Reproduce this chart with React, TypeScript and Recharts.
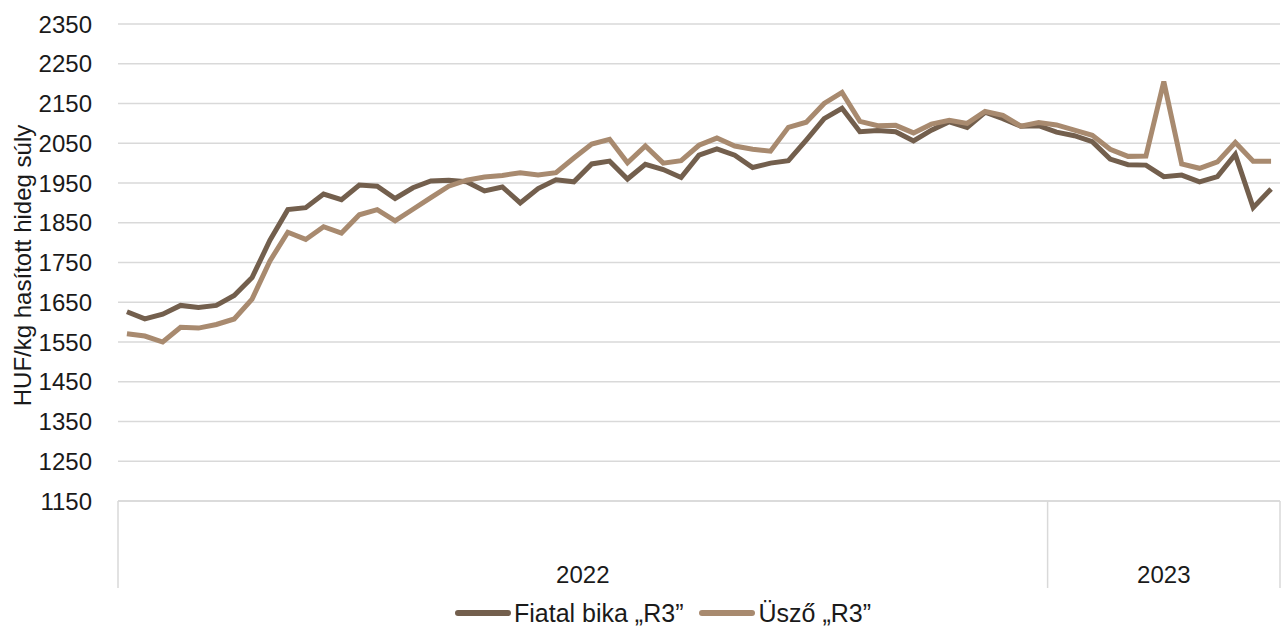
import React from 'react';
import { LineChart, Line, XAxis, YAxis, CartesianGrid, Legend } from 'recharts';

// Weekly prices, HUF/kg carcass weight (2022 weeks 1-52, 2023 weeks 1-13)
const fiatalBika = [
  1626, 1608, 1620, 1642, 1637, 1642, 1667, 1712, 1806, 1883,
  1888, 1922, 1908, 1945, 1942, 1911, 1938, 1955, 1957, 1953,
  1930, 1940, 1900, 1936, 1958, 1953, 1998, 2005, 1960, 1997,
  1984, 1964, 2020, 2036, 2020, 1989, 2000, 2006, 2058, 2112,
  2138, 2079, 2082, 2079, 2056, 2083, 2104, 2090, 2128, 2112,
  2093, 2094,
  2078, 2069, 2054, 2010, 1996, 1995, 1966, 1970, 1953, 1966,
  2022, 1888, 1935,
];

const uszo = [
  1571, 1565, 1550, 1587, 1585, 1594, 1608, 1658, 1754, 1826,
  1808, 1840, 1824, 1870, 1883, 1855, 1884, 1913, 1942, 1957,
  1965, 1969, 1976, 1970, 1976, 2013, 2048, 2060, 2001, 2043,
  2000, 2006, 2045, 2063, 2043, 2035, 2030, 2090, 2103, 2150,
  2178, 2105, 2094, 2095, 2076, 2098, 2108, 2100, 2130, 2120,
  2093, 2102,
  2096, 2083, 2070, 2035, 2017, 2018, 2205, 1998, 1987, 2003,
  2052, 2005, 2005,
];

const yearLabels = ['2022', '2023'];
const yearWeekCounts = [52, 13];
const yTicks = [1150, 1250, 1350, 1450, 1550, 1650, 1750, 1850, 1950, 2050, 2150, 2250, 2350];

const seriesNames = ['Fiatal bika \u201ER3\u201D', '\u00DCsz\u0151 \u201ER3\u201D'];
const seriesColors = ['#735f4d', '#a88a6f'];

const data = fiatalBika.map((v, i) => ({ i, bika: v, uszo: uszo[i] }));

// year boundaries and centers, in category-index units
const boundaries: number[] = [-0.5];
const centers: number[] = [];
{
  let start = 0;
  for (const n of yearWeekCounts) {
    centers.push(start + (n - 1) / 2);
    start += n;
    boundaries.push(start - 0.5);
  }
}
const xTicks = [...boundaries, ...centers].sort((a, b) => a - b);

const FONT = '"Liberation Sans", Arial, sans-serif';
const FS = 24;
const TEXT = '#1a1a1a';
const GRID = '#d9d9d9';

const YearTick = (props: any) => {
  const { x, y, payload } = props;
  const v = payload.value;
  if (boundaries.indexOf(v) >= 0) {
    return <line x1={x} x2={x} y1={y} y2={y + 87} stroke={GRID} strokeWidth={1.5} />;
  }
  const ci = centers.indexOf(v);
  if (ci < 0) return <g />;
  return (
    <text x={x} y={y + 82} textAnchor="middle" fontSize={FS} fontFamily={FONT} fill={TEXT}>
      {yearLabels[ci]}
    </text>
  );
};

const YTitle = (props: any) => {
  const vb = props.viewBox || { x: 0, y: 0, width: 0, height: 0 };
  const cx = vb.x + 22;
  const cy = vb.y + vb.height / 2 + 3;
  return (
    <text
      x={cx}
      y={cy}
      transform={`rotate(-90, ${cx}, ${cy})`}
      textAnchor="middle"
      dominantBaseline="central"
      fontSize={FS}
      fontFamily={FONT}
      fill={TEXT}
    >
      HUF/kg hasított hideg súly
    </text>
  );
};

const LegendContent = () => (
  <div
    style={{
      display: 'flex',
      justifyContent: 'center',
      alignItems: 'center',
      height: 42,
      paddingTop: 8,
      boxSizing: 'border-box',
      paddingLeft: 46,
      fontFamily: FONT,
      fontSize: 25,
      color: TEXT,
    }}
  >
    {seriesNames.map((name, k) => (
      <div key={name} style={{ display: 'flex', alignItems: 'center', marginRight: k === 0 ? 16 : 0 }}>
        <span
          style={{
            display: 'inline-block',
            width: 56,
            height: 6,
            background: seriesColors[k],
            borderRadius: 3,
            marginRight: 3,
          }}
        />
        <span>{name}</span>
      </div>
    ))}
  </div>
);

export default function App() {
  return (
    <div style={{ position: 'absolute', left: 0, top: 0, width: 1282, height: 630, background: '#fff' }}>
      <LineChart width={1282} height={630} data={data} margin={{ top: 24, right: 2, bottom: 0, left: 0 }}>
        <CartesianGrid vertical={false} stroke={GRID} strokeWidth={1.5} />
        <XAxis
          dataKey="i"
          type="number"
          domain={[-0.5, 64.5]}
          ticks={xTicks}
          interval={0}
          height={87}
          tickSize={0}
          tickMargin={0}
          tickLine={false}
          axisLine={{ stroke: GRID, strokeWidth: 1.5 }}
          tick={<YearTick />}
        />
        <YAxis
          domain={[1150, 2350]}
          ticks={yTicks}
          interval={0}
          width={118}
          axisLine={false}
          tickLine={false}
          tickSize={0}
          tickMargin={26}
          tick={{ fontSize: FS, fontFamily: FONT, fill: TEXT }}
          label={<YTitle />}
        />
        <Legend verticalAlign="bottom" height={42} content={<LegendContent />} />
        <Line
          type="linear"
          dataKey="bika"
          name={seriesNames[0]}
          stroke={seriesColors[0]}
          strokeWidth={5}
          dot={false}
          isAnimationActive={false}
        />
        <Line
          type="linear"
          dataKey="uszo"
          name={seriesNames[1]}
          stroke={seriesColors[1]}
          strokeWidth={5}
          dot={false}
          isAnimationActive={false}
        />
      </LineChart>
    </div>
  );
}
